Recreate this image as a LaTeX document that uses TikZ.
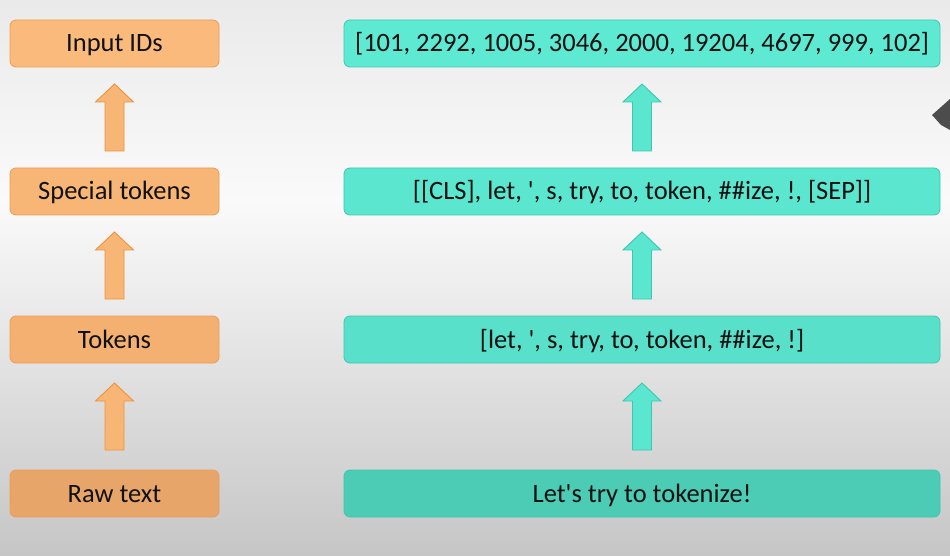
\documentclass[tikz,border=0pt]{standalone}
\usepackage{fontspec}
\setmainfont{Carlito}[Ligatures=TeXOff]
\usetikzlibrary{calc}
\definecolor{bgtop}{HTML}{EAEAEA}
\definecolor{bgmid}{HTML}{FAFAFA}
\definecolor{bgbot}{HTML}{C6C6C6}
\definecolor{orA}{HTML}{F9BA7C}
\definecolor{orB}{HTML}{F7B676}
\definecolor{orC}{HTML}{F4B071}
\definecolor{orD}{HTML}{E8A56A}
\definecolor{orline}{HTML}{EC9C58}
\definecolor{orarrline}{HTML}{F0923A}
\definecolor{tlA}{HTML}{5EE9D3}
\definecolor{tlB}{HTML}{5BE6CF}
\definecolor{tlC}{HTML}{58E0CA}
\definecolor{tlD}{HTML}{4CCBB5}
\definecolor{tlline}{HTML}{3CC8AE}
\definecolor{txt}{HTML}{111111}
\newcommand\upblock[3]{%
  \draw[#3] let \p1=(#1.north), \p2=(#2.south), \n1={(\y2-\y1-67pt)/2} in
    ({\x1-9.5pt},{\y1+\n1*1pt}) -- ({\x1-9.5pt},{\y1+\n1*1pt+49pt})
    -- ({\x1-19pt},{\y1+\n1*1pt+49pt}) -- ({\x1},{\y1+\n1*1pt+67pt})
    -- ({\x1+19pt},{\y1+\n1*1pt+49pt}) -- ({\x1+9.5pt},{\y1+\n1*1pt+49pt})
    -- ({\x1+9.5pt},{\y1+\n1*1pt}) -- cycle;}
\tikzset{
  box/.style={rounded corners=6pt, minimum height=47pt, inner sep=0pt,
    text height=20pt, text depth=3pt,
    text=txt, font=\fontsize{26.5}{30}\selectfont, line width=0.8pt},
  lbox/.style={box, minimum width=209pt, draw=orline},
  rbox/.style={box, minimum width=596pt, draw=tlline},
  oarr/.style={fill=orB, draw=orarrline, line width=0.9pt, line join=miter},
  tarr/.style={fill=tlB, draw=tlline, line width=0.9pt, line join=miter}
}
\begin{document}
\begin{tikzpicture}[x=1pt,y=1pt]
\useasboundingbox (0,0) rectangle (950,555);
\shade[top color=bgtop, bottom color=bgmid] (0,355) rectangle (950,555);
\shade[top color=bgmid, bottom color=bgbot] (0,0) rectangle (950,355);
% left column
\node[lbox, fill=orA] (lid)  at (114.5,511.5) {Input IDs};
\node[lbox, fill=orB] (lsp)  at (114.5,363.5) {Special tokens};
\node[lbox, fill=orC] (ltok) at (114.5,215.5) {Tokens};
\node[lbox, fill=orD] (lraw) at (114.5,61.5) {Raw text};
% right column
\node[rbox, fill=tlA] (rid)  at (642,511.5) {[101, 2292, 1005, 3046, 2000, 19204, 4697, 999, 102]};
\node[rbox, fill=tlB] (rsp)  at (642,363.5) {[[CLS], let, ', s, try, to, token, \#\#ize, !, [SEP]]};
\node[rbox, fill=tlC] (rtok) at (642,215.5) {[let, ', s, try, to, token, \#\#ize, !]};
\node[rbox, fill=tlD] (rraw) at (642,61.5) {Let's try to tokenize!};
% arrows
\upblock{lraw}{ltok}{oarr}
\upblock{ltok}{lsp}{oarr}
\upblock{lsp}{lid}{oarr}
\upblock{rraw}{rtok}{tarr}
\upblock{rtok}{rsp}{tarr}
\upblock{rsp}{rid}{tarr}
% cursor fragment at right edge
\fill[black!70] (932,440) -- (950,456) -- (950,425) -- (941,430) -- cycle;
\end{tikzpicture}
\end{document}
